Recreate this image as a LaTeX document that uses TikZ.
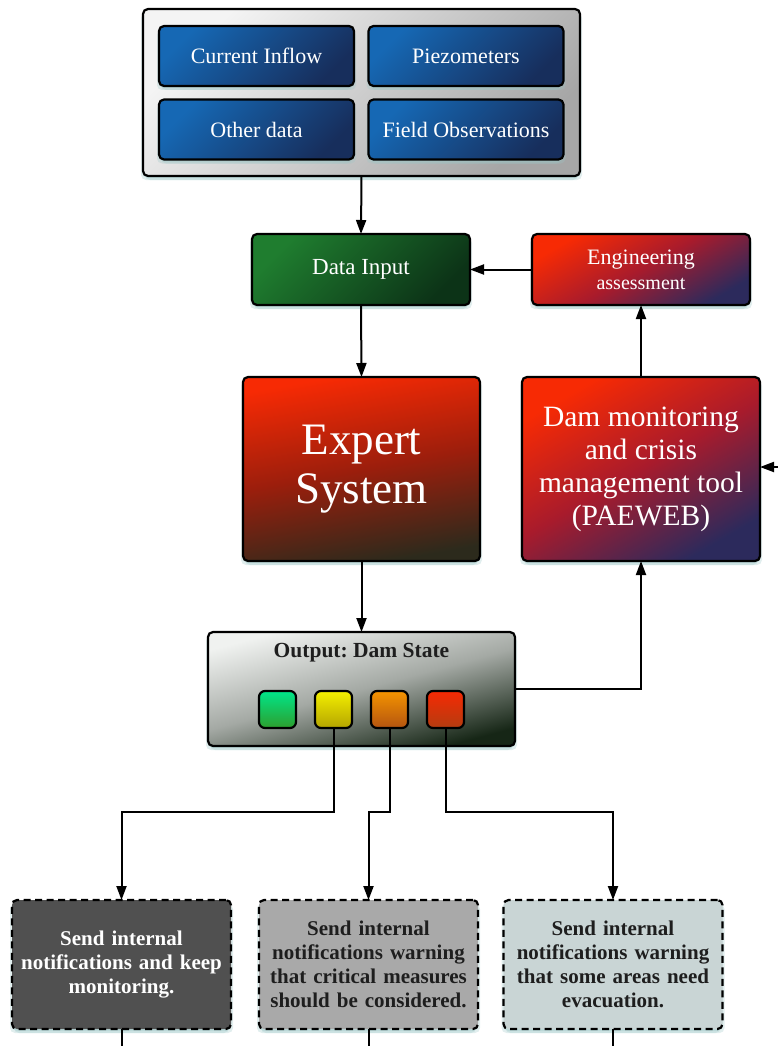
\documentclass[tikz,border=0pt]{standalone}
\usepackage{fontspec}
\setmainfont{Liberation Serif}
\frenchspacing
\usetikzlibrary{arrows.meta,shadows,calc}
\definecolor{shadowc}{HTML}{9CC6C6}
\definecolor{blueA}{HTML}{1668B4}
\definecolor{blueB}{HTML}{172E5C}
\definecolor{greenA}{HTML}{1F7D2F}
\definecolor{greenB}{HTML}{0C3317}
\definecolor{redA}{HTML}{F72A04}
\definecolor{redM}{HTML}{A81B2C}
\definecolor{purpB}{HTML}{2C2A5C}
\definecolor{expB}{HTML}{2C2A1C}
\definecolor{expM}{HTML}{9C1E0C}
\definecolor{greyA}{HTML}{F4F4F4}
\definecolor{greyB}{HTML}{A6A6A6}
\definecolor{outA}{HTML}{F0F2F0}
\definecolor{outM}{HTML}{A4A9A4}
\definecolor{outB}{HTML}{162616}
\definecolor{box1}{HTML}{505050}
\definecolor{box2}{HTML}{A9A9A9}
\definecolor{box3}{HTML}{C9D5D5}
\definecolor{txtdark}{HTML}{1E1E1E}
\definecolor{sqgA}{HTML}{00E68A}
\definecolor{sqgB}{HTML}{2D9E2D}
\definecolor{sqyA}{HTML}{F4F000}
\definecolor{sqyB}{HTML}{B4A400}
\definecolor{sqoA}{HTML}{F49400}
\definecolor{sqoB}{HTML}{B45410}
\definecolor{sqrA}{HTML}{F62A04}
\definecolor{sqrB}{HTML}{B43C10}
\tikzset{
  glow/.style={
    general shadow={fill=shadowc, opacity=0.35, shadow xshift=0pt, shadow yshift=-2pt},
    general shadow={fill=shadowc, opacity=0.3, shadow xshift=2pt, shadow yshift=-4pt},
    general shadow={fill=shadowc, opacity=0.3, shadow xshift=-2pt, shadow yshift=-4pt}},
  base/.style={rounded corners=5pt, draw=black, line width=2.2pt, inner sep=0pt,
    outer sep=0pt, align=center},
  blk/.style={base, glow, minimum width=195pt, minimum height=60pt,
    top color=blueA, bottom color=blueB, shading angle=45, text=white,
    font=\fontsize{22}{26}\selectfont},
  grn/.style={base, glow, top color=greenA, bottom color=greenB, shading angle=45,
    text=white, font=\fontsize{23}{27}\selectfont},
  redbox/.style={base, glow, top color=redA, bottom color=purpB, middle color=redM,
    shading angle=30, text=white},
  outbox/.style={base, glow, top color=outA, bottom color=outB, middle color=outM,
    shading angle=15},
  sq/.style={base, rounded corners=6pt, minimum width=37pt, minimum height=37pt},
  note/.style={base, glow, dashed, dash pattern=on 7pt off 4.5pt, minimum width=219pt,
    minimum height=129pt, text width=215pt, font=\bfseries\fontsize{21}{24}\selectfont},
  arr/.style={line width=2pt, -{Triangle[length=14pt,width=10pt]}},
  ln/.style={line width=2pt}
}
\begin{document}
\begin{tikzpicture}[x=1pt,y=-1pt]
\useasboundingbox (0,0) rectangle (778,1046);
% input group
\node[base, glow, minimum width=437pt, minimum height=167pt, top color=greyA,
  bottom color=greyB, shading angle=45] (outer) at (361.5,92.5) {};
\node[blk] (ci) at (256.5,56) {Current Inflow};
\node[blk] (pz) at (466,56) {Piezometers};
\node[blk] (od) at (256.5,129.5) {Other data};
\node[blk] (fo) at (466,129.5) {Field Observations};
% middle
\node[grn, minimum width=218pt, minimum height=71pt] (di) at (361,269.5) {Data Input};
\node[redbox, minimum width=218pt, minimum height=71pt,
  font=\fontsize{22}{25}\selectfont] (ea) at (641,269.5)
  {Engineering\\{\fontsize{20}{25}\selectfont assessment}};
\node[base, glow, minimum width=237pt, minimum height=184pt, top color=redA,
  bottom color=expB, middle color=expM, shading angle=10, text=white,
  font=\fontsize{45}{49}\selectfont] (es) at (361.5,469) {Expert\\System};
\node[redbox, minimum width=238pt, minimum height=184pt,
  font=\fontsize{29.5}{33}\selectfont] (pw) at (641,469)
  {Dam monitoring\\and crisis\\management tool\\(PAEWEB)};
% output
\node[outbox, minimum width=307pt, minimum height=114pt] (out) at (361.5,689) {};
\node[font=\bfseries\fontsize{21.5}{25}\selectfont, text=txtdark, anchor=north,
  inner sep=0pt] (outt) at ([yshift=-11pt]out.north) {Output: Dam State};
\node[sq, top color=sqgA, bottom color=sqgB] (sg) at (277.5,709.5) {};
\node[sq, top color=sqyA, bottom color=sqyB] (sy) at (333.5,709.5) {};
\node[sq, top color=sqoA, bottom color=sqoB] (so) at (389.5,709.5) {};
\node[sq, top color=sqrA, bottom color=sqrB] (sr) at (445.5,709.5) {};
% notes
\node[note, fill=box1, text=white] (b1) at (121.5,964.5)
  {Send internal\\notifications and keep\\monitoring.};
\node[note, fill=box2, text=txtdark] (b2) at (368.5,964.5)
  {Send internal\\notifications warning\\that critical measures\\should be considered.};
\node[note, fill=box3, text=txtdark] (b3) at (613,964.5)
  {Send internal\\notifications warning\\that some areas need\\evacuation.};
% connectors
\draw[arr] (outer.south) -- (di.north);
\draw[arr] (ea.west) -- (di.east);
\draw[arr] (di.south) -- (es.north);
\draw[arr] (es.south) -- (out.north);
\draw[arr] (pw.north) -- (ea.south);
\draw[arr] (out.east) -| (pw.south);
\coordinate (rin) at (778,467);
\draw[arr] (rin) -- (rin -| pw.east);
\draw[arr] (sy.south) -- ++(0,84) -| (b1.north);
\draw[arr] (so.south) -- ++(0,84) -| (b2.north);
\draw[arr] (sr.south) -- ++(0,84) -| (b3.north);
\coordinate (t1) at (121.5,1050);
\coordinate (t2) at (368.5,1050);
\coordinate (t3) at (613,1050);
\draw[ln] (b1.south) -- (t1);
\draw[ln] (b2.south) -- (t2);
\draw[ln] (b3.south) -- (t3);
\end{tikzpicture}
\end{document}
